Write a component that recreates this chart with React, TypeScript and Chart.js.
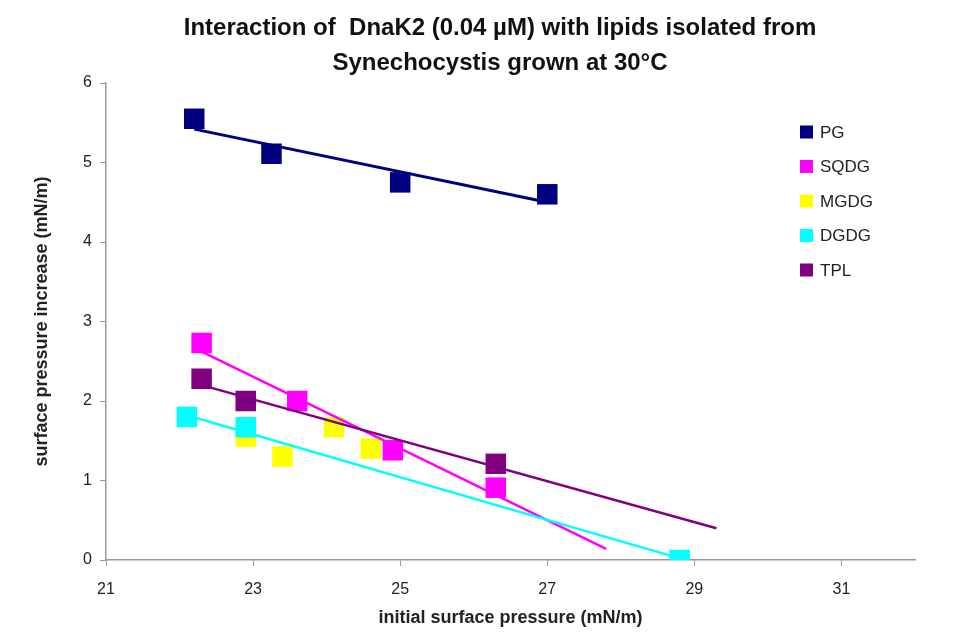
import React, { useEffect, useRef } from "react";
import { Chart, registerables } from "chart.js";

Chart.register(...registerables);

const titleLines = [
  "Interaction of  DnaK2 (0.04 µM) with lipids isolated from",
  "Synechocystis grown at 30°C",
];
const xAxisTitle = "initial surface pressure (mN/m)";
const yAxisTitle = "surface pressure increase (mN/m)";

const seriesNames = ["PG", "SQDG", "MGDG", "DGDG", "TPL"];
const seriesColors = ["#000080", "#FF00FF", "#FFFF00", "#00FFFF", "#800080"];

// measured points
const pgX = [22.2, 23.25, 25.0, 27.0];
const pgY = [5.55, 5.11, 4.75, 4.6];
const sqdgX = [22.3, 23.6, 24.9, 26.3];
const sqdgY = [2.73, 2.0, 1.38, 0.91];
const mgdgX = [22.9, 23.4, 24.1, 24.6];
const mgdgY = [1.55, 1.3, 1.67, 1.4];
const dgdgX = [22.1, 22.9, 28.8];
const dgdgY = [1.8, 1.67, 0.0];
const tplX = [22.3, 22.9, 26.3];
const tplY = [2.28, 2.0, 1.21];

// trend lines (start and end)
const pgTrendX = [22.2, 27.0];
const pgTrendY = [5.42, 4.5];
const sqdgTrendX = [22.3, 27.8];
const sqdgTrendY = [2.62, 0.14];
const dgdgTrendX = [22.1, 28.8];
const dgdgTrendY = [1.82, 0.02];
const tplTrendX = [22.3, 29.3];
const tplTrendY = [2.2, 0.4];

const xTicks = [21, 23, 25, 27, 29, 31];
const yTicks = [0, 1, 2, 3, 4, 5, 6];

const pointSets = [
  [pgX, pgY],
  [sqdgX, sqdgY],
  [mgdgX, mgdgY],
  [dgdgX, dgdgY],
  [tplX, tplY],
];
const trendSets: (number[][] | null)[] = [
  [pgTrendX, pgTrendY],
  [sqdgTrendX, sqdgTrendY],
  null,
  [dgdgTrendX, dgdgTrendY],
  [tplTrendX, tplTrendY],
];

const FONT = '"Liberation Sans", Arial, sans-serif';

const legendPlugin = {
  id: "customLegend",
  afterDraw(chart: any) {
    const ctx = chart.ctx;
    ctx.save();
    ctx.font = `17px ${FONT}`;
    ctx.textBaseline = "middle";
    ctx.textAlign = "left";
    seriesNames.forEach((name, i) => {
      const y = 132 + i * 34.5;
      ctx.fillStyle = seriesColors[i];
      ctx.fillRect(800, y - 6.5, 13, 13);
      ctx.fillStyle = "#222";
      ctx.fillText(name, 820, y + 1);
    });
    ctx.restore();
  },
};

const titlePlugin = {
  id: "customTitle",
  afterDraw(chart: any) {
    const ctx = chart.ctx;
    ctx.save();
    ctx.font = `bold 24px ${FONT}`;
    ctx.textBaseline = "middle";
    ctx.textAlign = "center";
    ctx.fillStyle = "#111";
    titleLines.forEach((line, i) => {
      ctx.fillText(line, 500, 28 + i * 35);
    });
    ctx.restore();
  },
};

export default function App() {
  const ref = useRef<HTMLCanvasElement>(null);

  useEffect(() => {
    if (!ref.current) return;
    const datasets: any[] = [];
    pointSets.forEach(([xs, ys], i) => {
      datasets.push({
        type: "scatter",
        label: seriesNames[i],
        data: xs.map((x, k) => ({ x, y: ys[k] })),
        pointStyle: "rect",
        pointRadius: 14.5,
        pointHoverRadius: 14.5,
        backgroundColor: seriesColors[i],
        borderColor: seriesColors[i],
        borderWidth: 0,
        showLine: false,
        order: 20 - i,
      });
    });
    trendSets.forEach((t, i) => {
      if (!t) return;
      const [xs, ys] = t;
      datasets.push({
        type: "line",
        label: seriesNames[i] + " trend",
        data: xs.map((x, k) => ({ x, y: ys[k] })),
        borderColor: seriesColors[i],
        borderWidth: i === 0 ? 3 : 2.5,
        pointRadius: 0,
        fill: false,
        tension: 0,
        order: 10 - i,
      });
    });

    const chart = new Chart(ref.current, {
      type: "scatter",
      data: { datasets },
      options: {
        animation: false,
        responsive: true,
        maintainAspectRatio: false,
        layout: { padding: { top: 83, left: 0, right: 59, bottom: 0 } },
        plugins: {
          legend: { display: false },
          tooltip: { enabled: false },
          title: { display: false },
        },
        scales: {
          x: {
            type: "linear",
            min: 21,
            max: 32,
            afterBuildTicks: (scale: any) => {
              scale.ticks = xTicks.map((v) => ({ value: v }));
            },
            afterFit: (scale: any) => {
              scale.height = 80;
            },
            grid: {
              display: true,
              drawOnChartArea: false,
              drawTicks: true,
              tickLength: 6,
              color: "#999",
            },
            border: { display: true, color: "#999", width: 1.5 },
            ticks: {
              color: "#222",
              padding: 14,
              font: { family: FONT, size: 16 },
              maxRotation: 0,
            },
            title: {
              display: true,
              text: xAxisTitle,
              color: "#222",
              font: { family: FONT, size: 18, weight: "bold" },
              padding: { top: 2, bottom: 11 },
            },
          },
          y: {
            type: "linear",
            min: 0,
            max: 6,
            afterBuildTicks: (scale: any) => {
              scale.ticks = yTicks.map((v) => ({ value: v }));
            },
            afterFit: (scale: any) => {
              scale.width = 106;
            },
            grid: {
              display: true,
              drawOnChartArea: false,
              drawTicks: true,
              tickLength: 6,
              color: "#999",
            },
            border: { display: true, color: "#999", width: 1.5 },
            ticks: {
              color: "#222",
              padding: 8,
              font: { family: FONT, size: 16 },
            },
            title: {
              display: true,
              text: yAxisTitle,
              color: "#222",
              font: { family: FONT, size: 18, weight: "bold" },
              padding: { top: 31, bottom: 0 },
            },
          },
        },
      },
      plugins: [legendPlugin, titlePlugin],
    } as any);
    return () => chart.destroy();
  }, []);

  return (
    <div
      style={{
        position: "absolute",
        left: 0,
        top: 0,
        width: 974,
        height: 640,
        background: "#fff",
      }}
    >
      <canvas ref={ref} />
    </div>
  );
}
